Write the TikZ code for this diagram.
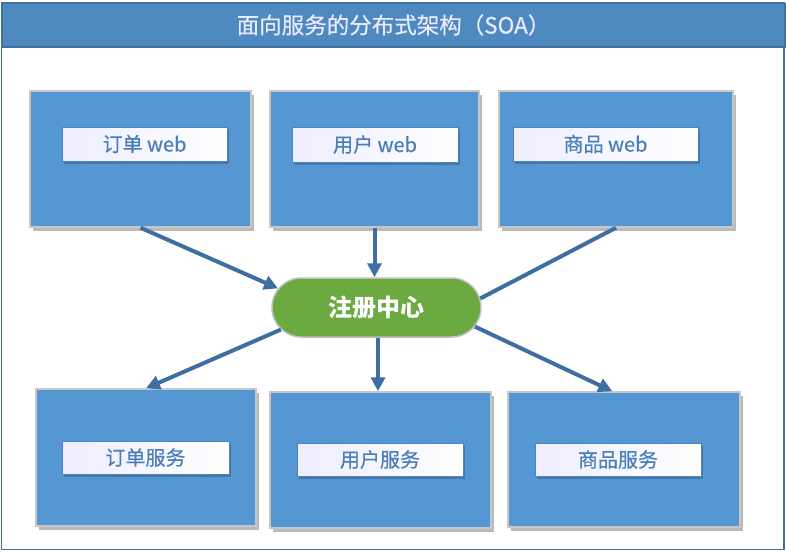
\documentclass[tikz,border=0pt]{standalone}
\usepackage{fontspec}
\setmainfont{Noto Sans CJK SC}
\usetikzlibrary{shadows,shapes.misc,arrows.meta,calc}
\definecolor{boxblue}{HTML}{5597D2}
\definecolor{bandblue}{HTML}{4E89BF}
\definecolor{framecol}{HTML}{41719C}
\definecolor{arrowcol}{HTML}{3F6FA2}
\definecolor{labtext}{HTML}{4A7EB8}
\definecolor{labborder}{HTML}{4F81BD}
\definecolor{pillgreen}{HTML}{6AAA40}
\tikzset{
  bigbox/.style={draw=black!22, line width=1.5pt, fill=boxblue, inner sep=0pt,
    drop shadow={shadow xshift=3pt, shadow yshift=-4pt, fill=black!45, opacity=0.6}},
  labbox/.style={draw=labborder, line width=1pt, left color=blue!7, right color=white,
    inner sep=0pt, text=labtext, font=\fontsize{20}{22}\selectfont\addfontfeature{FakeBold=0.4},
    drop shadow={shadow xshift=2pt, shadow yshift=-3pt, fill=framecol, opacity=0.8}},
  pillnode/.style={rounded rectangle, draw=black!25, line width=1.5pt, fill=pillgreen,
    minimum width=209pt, minimum height=59pt, inner sep=0pt, text=white,
    font=\fontsize{24}{26}\selectfont\bfseries},
  conn/.style={draw=arrowcol, line width=4pt},
  arr/.style={conn, -{Triangle[length=14pt,width=14pt]}}
}
\begin{document}
\begin{tikzpicture}[x=1pt,y=-1pt]
\useasboundingbox (0,0) rectangle (786,552);
% frame and title band
\draw[draw=framecol, line width=1.5pt, fill=white] (1.5,2.5) rectangle (784,549.5);
\node[draw=framecol, line width=1.5pt, fill=bandblue, minimum width=782.5pt, minimum height=43.5pt,
  inner sep=0pt, anchor=north west, text=white!92!blue, font=\fontsize{22.5}{24}\selectfont\addfontfeature{FakeBold=0.3}]
  (title) at (1.5,2.5) {面向服务的分布式架构（SOA）};
% top boxes
\node[bigbox, minimum width=221pt, minimum height=136pt] (b1) at (140.5,159) {};
\node[bigbox, minimum width=209pt, minimum height=136pt] (b2) at (374.5,159) {};
\node[bigbox, minimum width=234pt, minimum height=136pt] (b3) at (616,159) {};
\node[labbox, minimum width=165pt, minimum height=34pt] (l1) at (144.5,144) {订单 web};
\node[labbox, minimum width=166pt, minimum height=35pt] (l2) at (375,144.5) {用户 web};
\node[labbox, minimum width=185pt, minimum height=34pt] (l3) at (605.5,144) {商品 web};
% bottom boxes
\node[bigbox, minimum width=220pt, minimum height=137pt] (b4) at (146,457.5) {};
\node[bigbox, minimum width=221pt, minimum height=136pt] (b5) at (380.5,460) {};
\node[bigbox, minimum width=232pt, minimum height=135pt] (b6) at (624,459.5) {};
\node[labbox, minimum width=167pt, minimum height=33pt] (l4) at (145.5,457.5) {订单服务};
\node[labbox, minimum width=166pt, minimum height=33pt] (l5) at (380,459.5) {用户服务};
\node[labbox, minimum width=166pt, minimum height=33pt] (l6) at (618,459.5) {商品服务};
% registry
\node[pillnode] (reg) at (376.5,307.5) {注册中心};
% connectors
\draw[arr] (b1.south) -- (reg.169);
\draw[arr] (b2.south) -- (b2.south |- reg.north);
\draw[conn] (b3.south) -- (reg.5);
\draw[arr] (reg.193) -- (b4.north);
\draw[arr] ($(reg.south)+(1.5,0)$) -- ($(reg.south |- b5.north)+(1.5,0)$);
\draw[arr] (reg.349) -- ($(b6.north west)!0.45!(b6.north east)$);
\end{tikzpicture}
\end{document}
